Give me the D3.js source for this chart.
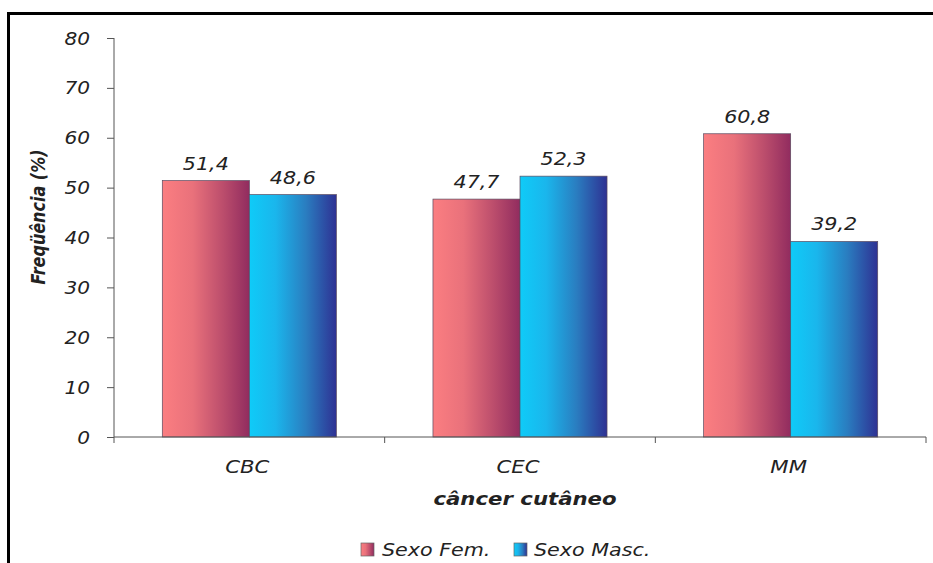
<!DOCTYPE html>
<html>
<head>
<meta charset="utf-8">
<script src="https://cdn.jsdelivr.net/npm/d3@7"></script>
<style>
  html, body { margin: 0; padding: 0; background: #fff; }
  svg { display: block; }
  text { font-family: "DejaVu Sans", Verdana, sans-serif; fill: #222; }
</style>
</head>
<body>
<svg id="chart" width="933" height="563"></svg>
<script>
// Skin cancer type vs. patient sex (percent)
const categories = ["CBC", "CEC", "MM"];
const seriesNames = ["Sexo Fem.", "Sexo Masc."];
const femValues = [51.4, 47.7, 60.8];
const mascValues = [48.6, 52.3, 39.2];
const yTicks = [0, 10, 20, 30, 40, 50, 60, 70, 80];
const xTitle = "câncer cutâneo";
const yTitle = "Freqüência (%)";

const W = 933, H = 563;
const plot = { left: 114, right: 926, top: 38, bottom: 437 };
const SX = 1.18; // glyphs are drawn slightly wider than tall

const svg = d3.select("#chart");
const defs = svg.append("defs");

function gradient(id, stops) {
  const g = defs.append("linearGradient").attr("id", id)
    .attr("x1", 0).attr("y1", 0).attr("x2", 1).attr("y2", 0);
  stops.forEach(([o, c]) => g.append("stop").attr("offset", o).attr("stop-color", c));
}
gradient("gFem", [[0, "#fb7e81"], [0.35, "#e9717b"], [0.7, "#bb4d6c"], [1, "#912c5f"]]);
gradient("gMasc", [[0, "#0fcbf8"], [0.3, "#1ab6ec"], [0.65, "#2a7dc0"], [1, "#2e3193"]]);
const fills = ["url(#gFem)", "url(#gMasc)"];

// stretched text helper
function label(parent, x, y, str, opt = {}) {
  const sx = opt.sx || SX;
  const rot = opt.rotate ? ` rotate(${opt.rotate})` : "";
  return parent.append("text")
    .attr("transform", `translate(${x},${y}) scale(${sx},1)${rot}`)
    .attr("text-anchor", opt.anchor || "middle")
    .style("font-size", (opt.size || 17.5) + "px")
    .style("font-style", "italic")
    .style("font-weight", opt.bold ? "bold" : "normal")
    .text(str);
}

// Scales
const x0 = d3.scaleBand().domain(categories).range([plot.left, plot.right]).paddingInner(0).paddingOuter(0);
const x1 = d3.scaleBand().domain(seriesNames).range([0, x0.bandwidth()]).paddingInner(0).paddingOuter(0.555);
const y = d3.scaleLinear().domain([0, 80]).range([plot.bottom, plot.top]);

const rows = categories.map((c, i) => ({ cat: c, vals: [femValues[i], mascValues[i]] }));

// Bars
const groups = svg.append("g").selectAll("g").data(rows).join("g")
  .attr("transform", d => `translate(${x0(d.cat)},0)`);
groups.selectAll("rect").data(d => d.vals.map((v, k) => ({ v, k })))
  .join("rect")
  .attr("x", d => x1(seriesNames[d.k]))
  .attr("y", d => y(d.v))
  .attr("width", x1.bandwidth())
  .attr("height", d => y(0) - y(d.v))
  .attr("fill", d => fills[d.k])
  .attr("stroke", "#5a4a60")
  .attr("stroke-width", 0.7);

// Value labels
groups.each(function (d) {
  const g = d3.select(this);
  d.vals.forEach((v, k) => {
    label(g, x1(seriesNames[k]) + x1.bandwidth() / 2, y(v) - 11,
      v.toFixed(1).replace(".", ","));
  });
});

// Y axis
const yAxis = d3.axisLeft(y).tickValues(yTicks).tickSize(7).tickFormat("");
const yg = svg.append("g").attr("transform", `translate(${plot.left},0)`).call(yAxis);
yg.select(".domain").attr("stroke", "#555").attr("d", `M0,${plot.top}V${plot.bottom + 6}`);
yg.selectAll(".tick line").attr("stroke", "#555");
yTicks.forEach(t => label(svg, 90, y(t) + 6.5, String(t), { anchor: "end", sx: 1.15 }));

// X axis with ticks at category boundaries
const xg = svg.append("g");
xg.append("line").attr("x1", plot.left).attr("x2", plot.right)
  .attr("y1", y(0)).attr("y2", y(0)).attr("stroke", "#555");
categories.forEach(c => {
  const bx = x0(c) + x0.bandwidth();
  xg.append("line").attr("x1", bx).attr("x2", bx)
    .attr("y1", y(0)).attr("y2", y(0) + 6).attr("stroke", "#555");
});
categories.forEach(c => label(svg, x0(c) + x0.bandwidth() / 2 - 2, 473, c, { size: 18 }));

// Axis titles
label(svg, 525, 505, xTitle, { size: 18, bold: true });
label(svg, 45, 217, yTitle, { size: 16, bold: true, rotate: -90, sx: 1.25 });

// Legend
const legend = [
  { name: seriesNames[0], fill: fills[0], sq: 361, tx: 382 },
  { name: seriesNames[1], fill: fills[1], sq: 514, tx: 534 }
];
legend.forEach(l => {
  svg.append("rect").attr("x", l.sq).attr("y", 543).attr("width", 13).attr("height", 13)
    .attr("fill", l.fill).attr("stroke", "#666").attr("stroke-width", 0.7);
  label(svg, l.tx, 556, l.name, { anchor: "start", size: 17.5 });
});

// Outer frame
svg.append("rect").attr("x", 8.5).attr("y", 13.5).attr("width", 940).attr("height", 600)
  .attr("fill", "none").attr("stroke", "#000").attr("stroke-width", 3);
</script>
</body>
</html>
